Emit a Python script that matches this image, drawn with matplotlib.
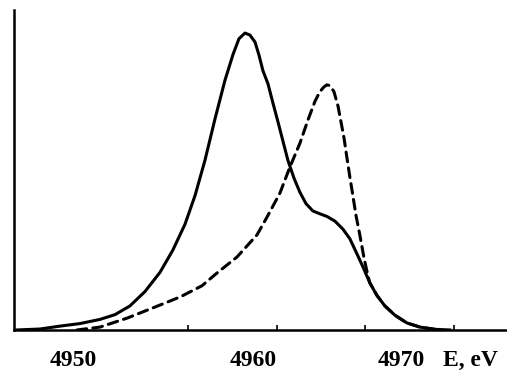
import matplotlib
matplotlib.use("Agg")
import matplotlib.pyplot as plt

# spectrum (energy in eV, intensity in arbitrary units)
e_solid = [4945.31, 4946.61, 4947.74, 4948.87, 4950.00, 4950.85, 4951.69, 4952.54,
           4953.39, 4954.12, 4954.80, 4955.37, 4955.93, 4956.50, 4957.06, 4957.51,
           4957.85, 4958.19, 4958.47, 4958.76, 4958.98, 4959.21, 4959.49, 4959.77,
           4960.06, 4960.34, 4960.62, 4960.96, 4961.30, 4961.64, 4962.03, 4962.43,
           4962.82, 4963.28, 4963.73, 4964.12, 4964.52, 4964.86, 4965.25, 4965.65,
           4966.10, 4966.67, 4967.34, 4968.08, 4968.93, 4969.77]
i_solid = [0.000, 0.003, 0.012, 0.020, 0.033, 0.048, 0.075, 0.120,
           0.180, 0.250, 0.330, 0.420, 0.530, 0.660, 0.780, 0.860,
           0.910, 0.928, 0.922, 0.900, 0.860, 0.810, 0.770, 0.710,
           0.650, 0.590, 0.530, 0.475, 0.430, 0.395, 0.372, 0.363,
           0.355, 0.340, 0.315, 0.285, 0.238, 0.197, 0.147, 0.108,
           0.075, 0.046, 0.022, 0.009, 0.002, 0.000]

e_dash = [4948.70, 4950.00, 4951.53, 4952.99, 4954.52, 4955.76, 4956.61, 4957.74,
          4958.87, 4959.44, 4960.17, 4960.73, 4961.30, 4961.75, 4962.15, 4962.43,
          4962.66, 4962.82, 4962.99, 4963.22, 4963.45, 4963.62, 4963.79, 4963.95,
          4964.12, 4964.29, 4964.46, 4964.69, 4964.92, 4965.14, 4965.25, 4965.65,
          4966.10, 4966.67, 4967.34, 4968.08, 4968.93]
i_dash = [0.000, 0.009, 0.037, 0.069, 0.103, 0.138, 0.178, 0.228,
          0.297, 0.353, 0.428, 0.509, 0.584, 0.656, 0.715, 0.745,
          0.760, 0.766, 0.764, 0.745, 0.700, 0.650, 0.600, 0.540,
          0.478, 0.420, 0.360, 0.295, 0.225, 0.170, 0.147, 0.108,
          0.075, 0.046, 0.022, 0.009, 0.002]

tick_marks = [4955, 4960, 4965, 4970]
tick_text = ["4950", "4960", "4970", "E, eV"]
text_at = [4948.47, 4958.64, 4967.0, 4970.96]   # where the labels sit in the original

plt.rcParams['lines.scale_dashes'] = False
fig = plt.figure(figsize=(5.07, 3.72), dpi=100)
ax = fig.add_axes([0.0276, 0.113, 0.9724, 0.86])

ax.plot(e_solid, i_solid, color='black', lw=2.2, solid_joinstyle='round')
ax.plot(e_dash, i_dash, color='black', lw=2.2, dashes=[7, 4.5], dash_capstyle='round')

ax.set_xlim(4945.14, 4973.0)
ax.set_ylim(0, 1)
ax.spines['top'].set_visible(False)
ax.spines['right'].set_visible(False)
ax.spines['left'].set_linewidth(1.8)
ax.spines['bottom'].set_linewidth(1.8)
ax.set_xticks(tick_marks)
ax.set_xticklabels([])
ax.tick_params(axis='x', direction='in', length=3.5, width=1.2)
ax.set_yticks([])

for lab, xpos in zip(tick_text, text_at):
    ax.text(xpos, -0.094, lab, transform=ax.get_xaxis_transform(),
            ha='center', va='center', fontsize=17, fontweight='bold',
            family='Liberation Serif')

fig.savefig("out.png", dpi=100)
